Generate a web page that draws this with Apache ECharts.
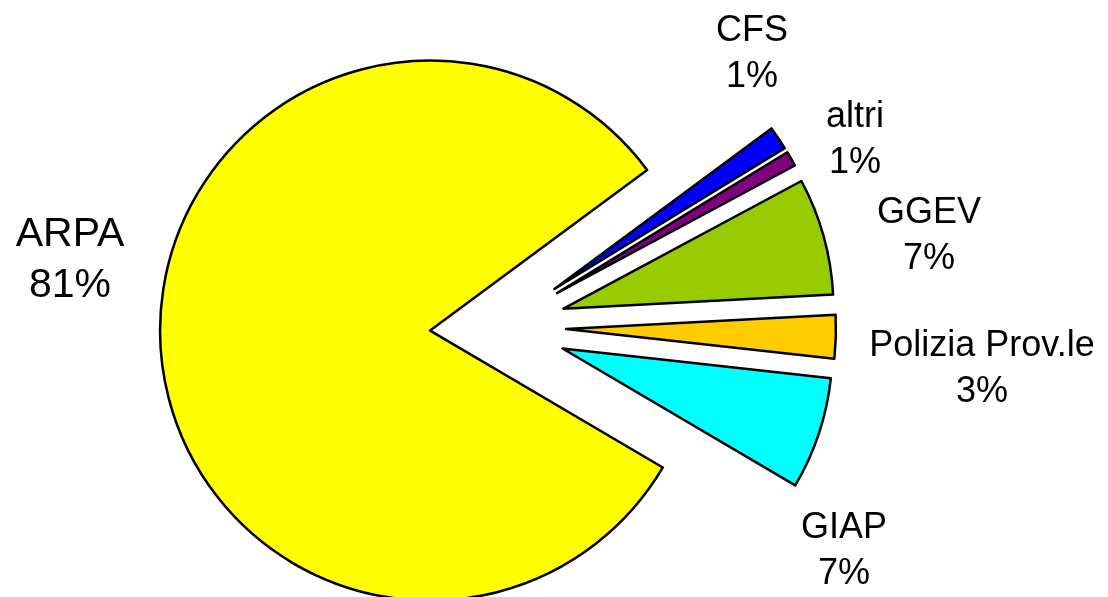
<!DOCTYPE html>
<html>
<head>
<meta charset="utf-8">
<script src="https://cdn.jsdelivr.net/npm/echarts@6/dist/echarts.min.js"></script>
<style>
html,body{margin:0;padding:0;background:#fff;}
#chart{width:1108px;height:597px;}
</style>
</head>
<body>
<div id="chart"></div>
<script>
// Data (percent shares)
const categories = ['CFS', 'altri', 'GGEV', 'Polizia Prov.le', 'GIAP', 'ARPA'];
const values = [1.4, 0.9, 7.0, 2.6, 6.7, 81.4];
const colors = ['#0000FF', '#800080', '#99CC00', '#FFCC00', '#00FFFF', '#FFFF00'];

// Label anchors (layout only)
const labelAnchors = [[752, 54], [855, 140], [929, 236], [982, 369], [844, 551], [70, 260]];
const labelFontSizes = [36, 36, 36, 36, 36, 41];
const labelLineHeights = [46, 46, 46, 46, 46, 51];

const total = values.reduce((s, v) => s + v, 0);
const chart = echarts.init(document.getElementById('chart'), null, {renderer: 'canvas'});

const data = categories.map((name, i) => ({
  name: name,
  value: values[i],
  selected: true,
  itemStyle: {color: colors[i]}
}));

const labels = categories.map((name, i) => ({
  type: 'text',
  x: labelAnchors[i][0],
  y: labelAnchors[i][1],
  silent: true,
  style: {
    text: name + '\n' + Math.round(values[i] / total * 100) + '%',
    fontFamily: 'Liberation Sans, Arial, sans-serif',
    fontSize: labelFontSizes[i],
    lineHeight: labelLineHeights[i],
    fill: '#000000',
    textAlign: 'center',
    textVerticalAlign: 'middle'
  }
}));

chart.setOption({
  animation: false,
  backgroundColor: '#ffffff',
  series: [{
    type: 'pie',
    center: [498, 327],
    radius: [0, 270],
    startAngle: 36.5,
    clockwise: true,
    selectedMode: 'multiple',
    selectedOffset: 68,
    avoidLabelOverlap: false,
    itemStyle: {borderColor: '#000000', borderWidth: 2.5},
    select: {itemStyle: {borderColor: '#000000', borderWidth: 2.5}},
    emphasis: {disabled: true},
    label: {show: false},
    labelLine: {show: false},
    data: data
  }],
  graphic: labels
});
</script>
</body>
</html>
